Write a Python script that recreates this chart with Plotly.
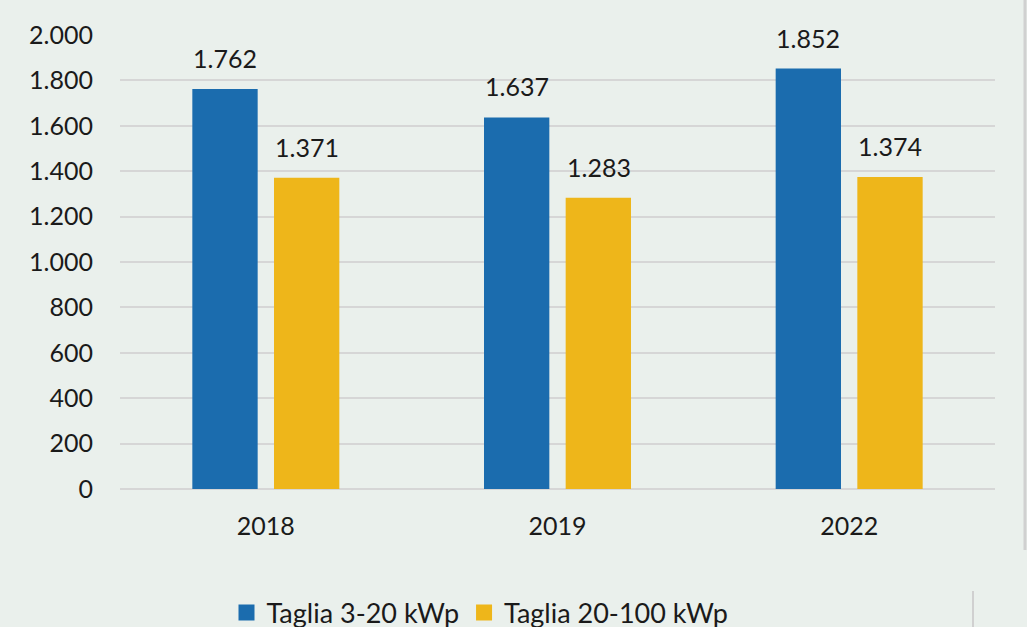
import plotly.graph_objects as go

years = ["2018", "2019", "2022"]
small = [1762, 1637, 1852]
medium = [1371, 1283, 1374]
names = ["Taglia 3-20 kWp", "Taglia 20-100 kWp"]
yticks = [0, 200, 400, 600, 800, 1000, 1200, 1400, 1600, 1800, 2000]

FONT = "Lato, Carlito, 'Open Sans', sans-serif"
BLUE = "#1b6cae"
YELLOW = "#eeb61a"

L, R, T, B = 120, 32, 35, 138
W, H = 1027, 627
pw, ph = W - L - R, H - T - B

def px(x):
    return (x - L) / pw

def py(y):
    return (H - B - y) / ph

fig = go.Figure()
for vals, nm, col in [(small, names[0], BLUE), (medium, names[1], YELLOW)]:
    fig.add_trace(go.Bar(
        x=years, y=vals, name=nm, marker=dict(color=col, line=dict(width=0)),
        showlegend=False,
    ))
for nm, col in [(names[0], BLUE), (names[1], YELLOW)]:
    fig.add_trace(go.Scatter(
        x=[None], y=[None], name=nm, mode="markers",
        marker=dict(color=col, symbol="square", size=18, line=dict(width=0)),
        showlegend=True,
    ))

annotations = []
for vals, shift in [(small, -41), (medium, 41)]:
    for i, v in enumerate(vals):
        annotations.append(dict(
            x=i, y=v, xref="x", yref="y", text=f"{v:,}".replace(",", "."),
            showarrow=False, xshift=shift, yshift=31, yanchor="middle",
            font=dict(family=FONT, size=25, color="#1a1a1a"),
        ))

shapes = [
    dict(type="line", xref="paper", yref="paper", x0=px(1025), x1=px(1025), y0=py(0), y1=py(550),
         line=dict(color="#d0d0d0", width=3)),
    dict(type="line", xref="paper", yref="paper", x0=px(973), x1=px(973), y0=py(591), y1=py(627),
         line=dict(color="#d0d0d0", width=2)),
]

fig.update_layout(
    width=W, height=H,
    margin=dict(l=L, r=R, t=T, b=B, autoexpand=False),
    paper_bgcolor="#eaf0ec", plot_bgcolor="#eaf0ec",
    separators=",.",
    barmode="group", bargap=0.44, bargroupgap=0.2,
    font=dict(family=FONT, size=24, color="#1a1a1a"),
    showlegend=True,
    legend=dict(orientation="h", x=px(480), xanchor="center", y=py(613), yanchor="middle",
                font=dict(family=FONT, size=27, color="#1a1a1a"), bgcolor="rgba(0,0,0,0)",
                itemwidth=30, tracegroupgap=0),
    shapes=shapes,
    annotations=annotations,
    xaxis=dict(type="category", range=[-0.5, 2.5], showgrid=False, showline=False, ticks="",
               tickfont=dict(size=25), ticklabelstandoff=20),
    yaxis=dict(range=[0, 2000], tickvals=yticks, tickformat=",.0f", showgrid=True, gridcolor="#d6d6d6",
               gridwidth=2, zeroline=True, zerolinecolor="#d6d6d6", zerolinewidth=2,
               showline=False, ticks="", tickfont=dict(size=25), ticklabelstandoff=26),
)

fig.write_html("out.html", config={"displayModeBar": False},
               post_script="document.body.style.margin='0';document.body.style.overflow='hidden';")
